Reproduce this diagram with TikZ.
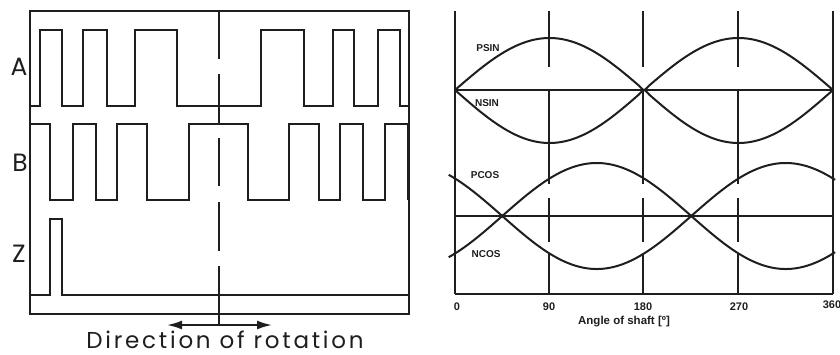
\documentclass[tikz,border=0pt]{standalone}
\usepackage{fontspec}
\newfontfamily\geo{Poppins}
\newfontfamily\geosp[LetterSpace=12]{Poppins}
\newfontfamily\lab{Liberation Sans}
\usetikzlibrary{arrows.meta}
\definecolor{ink}{RGB}{30,30,30}
\begin{document}
\begin{tikzpicture}[x=1pt,y=-1pt,
  line join=miter,
  sig/.style={draw=ink, line width=2pt},
  grid/.style={draw=ink, line width=2.2pt},
  curve/.style={draw=ink, line width=2pt},
  big/.style={text=ink, inner sep=0pt, font=\geo\fontsize{25}{25}\selectfont},
  dirtxt/.style={text=ink, inner sep=0pt, font=\geosp\fontsize{23}{23}\selectfont},
  small/.style={text=ink, inner sep=0pt, font=\lab\bfseries\fontsize{10}{10}\selectfont},
  tick/.style={text=ink, inner sep=0pt, font=\lab\bfseries\fontsize{11}{11}\selectfont},
  dblarrow/.style={draw=ink, line width=2pt, {Latex[length=15pt,width=9pt]}-{Latex[length=15pt,width=9pt]}}
]
\useasboundingbox (0,0) rectangle (840,354);

% ---------------- left panel ----------------
\draw[sig] (30,11) rectangle (409,314);
% A
\draw[sig] (30,106) -- (40,106) -- (40,30) -- (62,30) -- (62,106) -- (83,106) -- (83,30)
  -- (107,30) -- (107,106) -- (135,106) -- (135,30) -- (177,30) -- (177,106) -- (261,106)
  -- (261,30) -- (304,30) -- (304,106) -- (333,106) -- (333,30) -- (354,30) -- (354,106)
  -- (378,106) -- (378,30) -- (400,30) -- (400,106) -- (409,106);
% B
\draw[sig] (30,124) -- (50,124) -- (50,200) -- (73,200) -- (73,124) -- (96,124) -- (96,200)
  -- (117,200) -- (117,124) -- (147,124) -- (147,200) -- (189,200) -- (189,124) -- (248,124)
  -- (248,200) -- (289,200) -- (289,124) -- (319,124) -- (319,200) -- (340,200) -- (340,124)
  -- (363,124) -- (363,200) -- (385,200) -- (385,124) -- (408,124) -- (408,200);
% Z
\draw[sig] (30,295) -- (50,295) -- (50,219) -- (62,219) -- (62,295) -- (409,295);
% centre dash line
\foreach \a/\b in {11/59, 74/123, 138/186, 202/251, 266/325}
  \draw[sig] (219,\a) -- (219,\b);
\node[big] (labA) at (19,67) {A};
\node[big] (labB) at (20,163) {B};
\node[big] (labZ) at (19,254) {Z};
\coordinate (arrL) at (167,325);
\coordinate (arrR) at (272,325);
\draw[dblarrow] (arrL) -- (arrR);
\node[dirtxt, anchor=base] (dir) at (225,348.5) {Direction of rotation};

% ---------------- right panel ----------------
\draw[grid] (455,11) -- (455,294);
\draw[grid] (833,11) -- (833,294);
\foreach \xx in {549,643,738}{
  \foreach \a/\b in {11/67, 90/184, 198/242, 253/294}
    \draw[grid] (\xx,\a) -- (\xx,\b);
}
\draw[grid] (455,90) -- (833,90);
\draw[grid] (455,216) -- (833,216);
\draw[grid] (455,294) -- (833,294);

\draw[curve] plot[domain=0:360, samples=73, smooth] ({455+1.05*\x},{90-52*abs(sin(\x))});
\draw[curve] plot[domain=0:360, samples=73, smooth] ({455+1.05*\x},{90+53*abs(sin(\x))});
\draw[curve] plot[domain=-6:362, samples=369] ({455+1.05*\x},{216-53*abs(sin(\x-45))});
\draw[curve] plot[domain=-6:362, samples=369] ({455+1.05*\x},{216+53*abs(sin(\x-45))});

\node[small] (psin) at (488,48) {PSIN};
\node[small] (nsin) at (487,103) {NSIN};
\node[small] (pcos) at (485,175) {PCOS};
\node[small] (ncos) at (486,254) {NCOS};

\node[tick] (t0) at (457,307) {0};
\node[tick] (t90) at (549,307) {90};
\node[tick] (t180) at (643,307) {180};
\node[tick] (t270) at (739,307) {270};
\node[tick] (t360) at (832,305) {360};
\node[small, font=\lab\bfseries\fontsize{11.5}{11.5}\selectfont] (axis) at (624,322) {Angle of shaft [º]};
\end{tikzpicture}
\end{document}
